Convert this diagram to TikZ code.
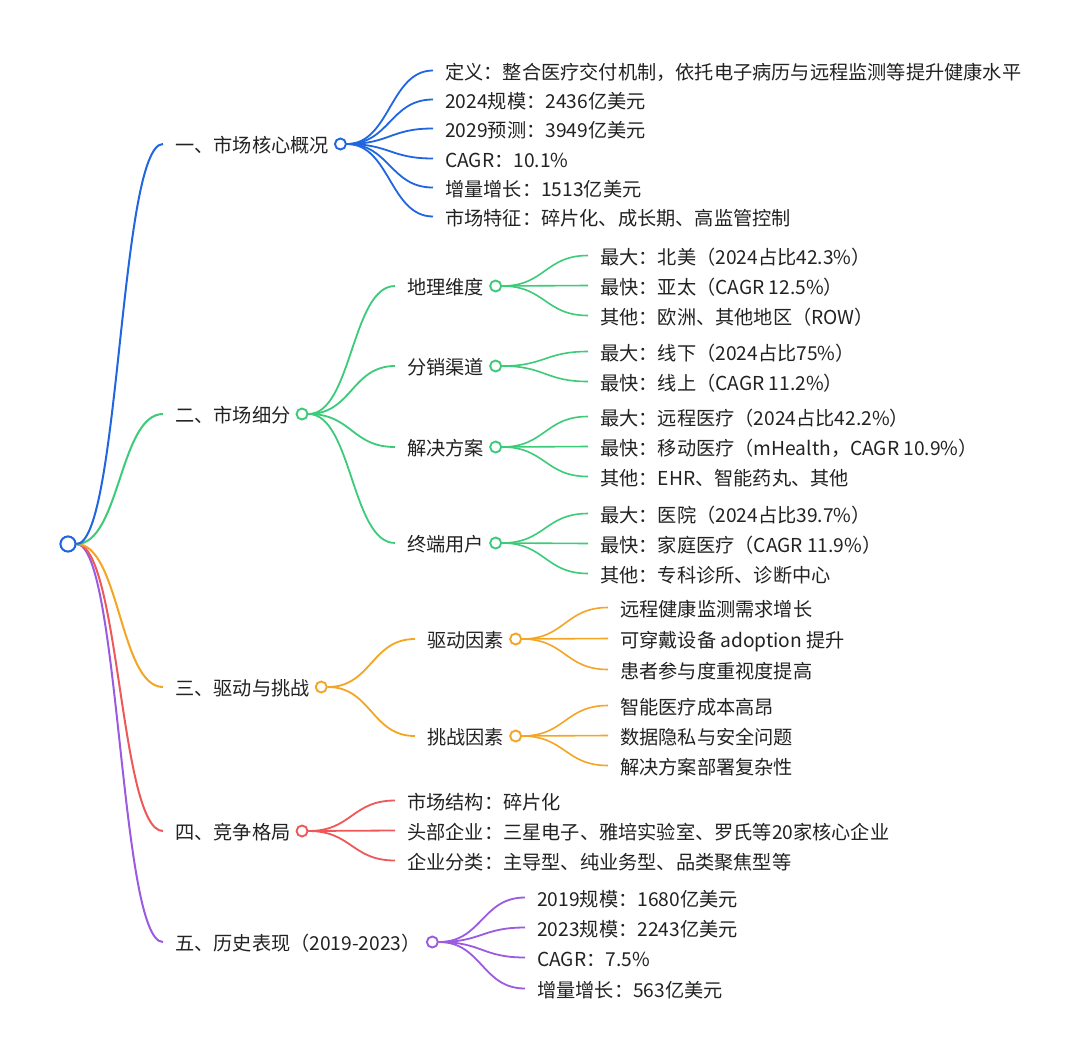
\documentclass[tikz,border=0pt]{standalone}
\usepackage{fontspec}
\setmainfont{Noto Sans CJK SC}
\usetikzlibrary{calc,positioning}
\definecolor{cb}{HTML}{1F66E0}
\definecolor{cg}{HTML}{3CCB78}
\definecolor{co}{HTML}{F5A524}
\definecolor{cr}{HTML}{EF5858}
\definecolor{cp}{HTML}{9B5BE0}
\definecolor{txt}{HTML}{222222}
\tikzset{
  lbl/.style={anchor=west, inner sep=0pt, text height=19.8pt, text depth=2pt, text=txt, font=\fontsize{19.2}{23}\selectfont},
  dot/.style={circle, draw=#1, fill=white, line width=1.9pt, minimum size=11pt, inner sep=0pt},
  link/.style={to path={let \p1=(\tikztostart), \p2=(\tikztotarget) in .. controls ({(\x1+\x2)/2},\y1) and ({(\x1+\x2)/2},\y2) .. (\tikztotarget)}},
  ea/.style={draw=#1, line width=2pt, link},
  eb/.style={draw=#1, line width=1.8pt, link},
  ec/.style={draw=#1, line width=1.6pt, link},
  gap/.style={xshift=-12pt}
}
\begin{document}
\begin{tikzpicture}[x=1pt,y=-1pt]
\fill[white] (0,0) rectangle (1080,1058);
\useasboundingbox (0,0) rectangle (1080,1058);

% root
\node[dot=cb, minimum size=15pt] (root) at (68,544) {};

% level 1 texts
\node[lbl] (A) at (175,144) {一、市场核心概况};
\node[lbl] (B) at (175,414) {二、市场细分};
\node[lbl] (C) at (175,687) {三、驱动与挑战};
\node[lbl] (D) at (175,831) {四、竞争格局};
\node[lbl] (E) at (175,942) {五、历史表现（2019-2023）};

% A children
\node[lbl] (A1) at (445,70.5) {定义：整合医疗交付机制，依托电子病历与远程监测等提升健康水平};
\node[lbl] (A2) at (445,99.5) {2024规模：2436亿美元};
\node[lbl] (A3) at (445,128.5) {2029预测：3949亿美元};
\node[lbl] (A4) at (445,158.5) {CAGR：10.1\%};
\node[lbl] (A5) at (445,187.5) {增量增长：1513亿美元};
\node[lbl] (A6) at (445,216.5) {市场特征：碎片化、成长期、高监管控制};

% B children
\node[lbl] (B1) at (407,286) {地理维度};
\node[lbl] (B2) at (407,366) {分销渠道};
\node[lbl] (B3) at (407,447) {解决方案};
\node[lbl] (B4) at (407,543) {终端用户};
\node[lbl] (B11) at (600,255.5) {最大：北美（2024占比42.3\%）};
\node[lbl] (B12) at (600,285.5) {最快：亚太（CAGR 12.5\%）};
\node[lbl] (B13) at (600,315.5) {其他：欧洲、其他地区（ROW）};
\node[lbl] (B21) at (600,351.5) {最大：线下（2024占比75\%）};
\node[lbl] (B22) at (600,381.5) {最快：线上（CAGR 11.2\%）};
\node[lbl] (B31) at (600,416.5) {最大：远程医疗（2024占比42.2\%）};
\node[lbl] (B32) at (600,446.5) {最快：移动医疗（mHealth，CAGR 10.9\%）};
\node[lbl] (B33) at (600,476.5) {其他：EHR、智能药丸、其他};
\node[lbl] (B41) at (600,513.5) {最大：医院（2024占比39.7\%）};
\node[lbl] (B42) at (600,543.5) {最快：家庭医疗（CAGR 11.9\%）};
\node[lbl] (B43) at (600,573.5) {其他：专科诊所、诊断中心};

% C children
\node[lbl] (C1) at (427,639) {驱动因素};
\node[lbl] (C2) at (427,736) {挑战因素};
\node[lbl] (C11) at (620,607.5) {远程健康监测需求增长};
\node[lbl] (C12) at (620,638.5) {可穿戴设备 adoption 提升};
\node[lbl] (C13) at (620,669.5) {患者参与度重视度提高};
\node[lbl] (C21) at (620,705.5) {智能医疗成本高昂};
\node[lbl] (C22) at (620,735.5) {数据隐私与安全问题};
\node[lbl] (C23) at (620,765.5) {解决方案部署复杂性};

% D children
\node[lbl] (D1) at (407,800.5) {市场结构：碎片化};
\node[lbl] (D2) at (407,830.5) {头部企业：三星电子、雅培实验室、罗氏等20家核心企业};
\node[lbl] (D3) at (407,860.5) {企业分类：主导型、纯业务型、品类聚焦型等};

% E children
\node[lbl] (E1) at (537,897.5) {2019规模：1680亿美元};
\node[lbl] (E2) at (537,927.5) {2023规模：2243亿美元};
\node[lbl] (E3) at (537,957.5) {CAGR：7.5\%};
\node[lbl] (E4) at (537,988.5) {增量增长：563亿美元};

% circles
\node[dot=cb, right=5pt of A] (a) {};
\node[dot=cg, right=5pt of B] (b) {};
\node[dot=co, right=5pt of C] (c) {};
\node[dot=cr, right=5pt of D] (d) {};
\node[dot=cp, right=5pt of E] (e) {};
\node[dot=cg, right=5pt of B1] (b1) {};
\node[dot=cg, right=5pt of B2] (b2) {};
\node[dot=cg, right=5pt of B3] (b3) {};
\node[dot=cg, right=5pt of B4] (b4) {};
\node[dot=co, right=5pt of C1] (c1) {};
\node[dot=co, right=5pt of C2] (c2) {};

% root edges
\draw[ea=cp] (root.east) to ([gap]E.west);
\draw[ea=cr] (root.east) to ([gap]D.west);
\draw[ea=co] (root.east) to ([gap]C.west);
\draw[ea=cg] (root.east) to ([gap]B.west);
\draw[ea=cb] (root.east) to ([gap]A.west);

% A edges
\foreach \t in {A1,A2,A3,A4,A5,A6}
  \draw[eb=cb] (a.east) to ([gap]\t.west);
% B edges
\foreach \t in {B1,B2,B3,B4}
  \draw[eb=cg] (b.east) to ([gap]\t.west);
\foreach \t in {B11,B12,B13}
  \draw[ec=cg] (b1.east) to ([gap]\t.west);
\foreach \t in {B21,B22}
  \draw[ec=cg] (b2.east) to ([gap]\t.west);
\foreach \t in {B31,B32,B33}
  \draw[ec=cg] (b3.east) to ([gap]\t.west);
\foreach \t in {B41,B42,B43}
  \draw[ec=cg] (b4.east) to ([gap]\t.west);
% C edges
\foreach \t in {C1,C2}
  \draw[eb=co] (c.east) to ([gap]\t.west);
\foreach \t in {C11,C12,C13}
  \draw[ec=co] (c1.east) to ([gap]\t.west);
\foreach \t in {C21,C22,C23}
  \draw[ec=co] (c2.east) to ([gap]\t.west);
% D edges
\foreach \t in {D1,D2,D3}
  \draw[eb=cr] (d.east) to ([gap]\t.west);
% E edges
\foreach \t in {E1,E2,E3,E4}
  \draw[eb=cp] (e.east) to ([gap]\t.west);

% redraw root on top
\node[dot=cb, minimum size=15pt] at (root) {};
\end{tikzpicture}
\end{document}
